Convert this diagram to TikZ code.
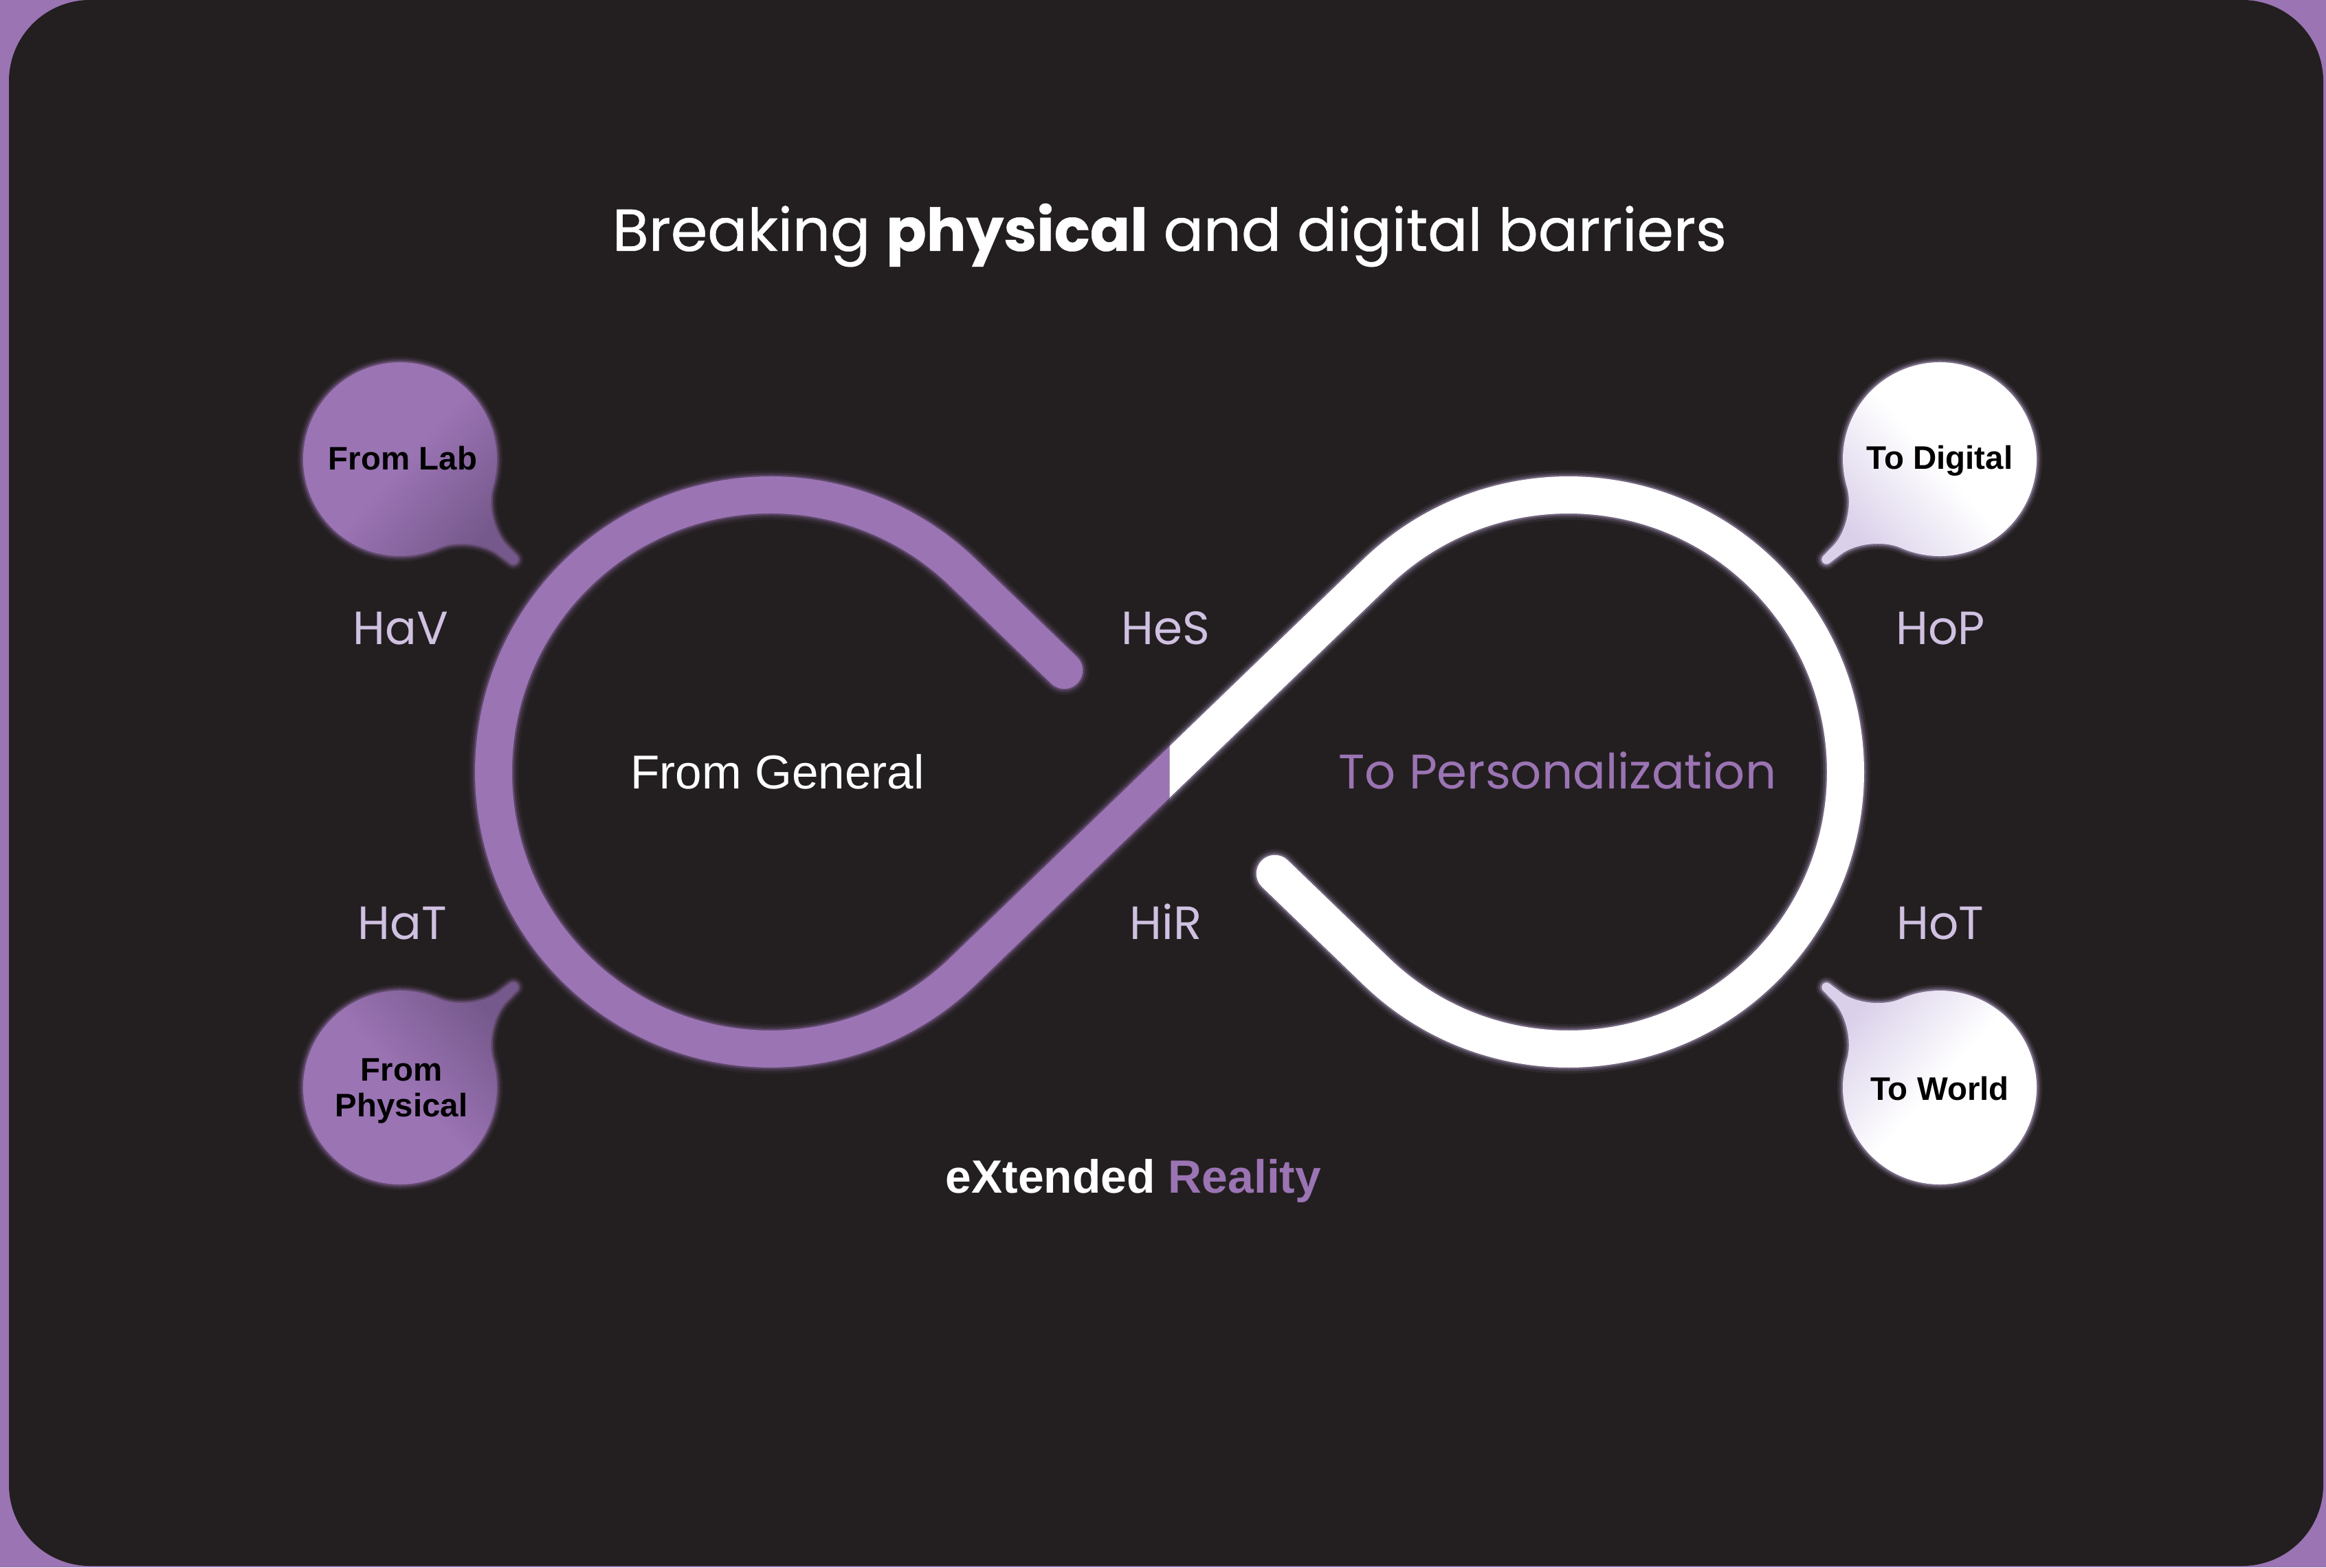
\documentclass[tikz,border=0pt]{standalone}
\usepackage{fontspec}
\setmainfont{Liberation Sans}
\newfontfamily\geofont{Poppins}
\usetikzlibrary{calc}

\definecolor{xrpurple}{RGB}{155,116,180}
\definecolor{xrdeep}{RGB}{118,89,140}
\definecolor{xrdark}{RGB}{35,31,32}
\definecolor{xrlilac}{RGB}{208,193,226}
\definecolor{xrmist}{RGB}{218,208,234}
\definecolor{xrglow}{RGB}{200,178,226}

\tikzset{
  loopline/.style={line width=0.54cm, line cap=round},
  hlabel/.style={text=xrlilac, anchor=base, font=\geofont\fontsize{19.3}{22}\selectfont},
  bubbletext/.style={text=black, align=center, font=\bfseries\fontsize{13.5}{14.8}\selectfont},
  bubble shape/.style={insert path={
    (25:1.41) arc[start angle=25, end angle=335, radius=1.41]
    .. controls +(65:0.3) and (1.75,-0.10) .. (2.0,-0.085) -- (2.20,-0.07)
    arc[start angle=-90, end angle=90, radius=0.07] -- (2.0,0.085)
    .. controls (1.75,0.10) and +(-65:0.3) .. (25:1.41) -- cycle}},
  purple loop/.style={insert path={
    (17.375,11.917) -- (14.008,8.670)
    arc[start angle=-46.03, end angle=-313.97, radius=4.03] -- ++(1.475,-1.423)}},
  white loop/.style={insert path={
    (16.655,11.223) -- (20.022,14.470)
    arc[start angle=133.97, end angle=-133.97, radius=4.03] -- ++(-1.475,1.423)}},
}

% speech bubble: centre, tail angle, body colour, tail-side colour, rim colour
\newcommand{\speechbubble}[5]{%
  \pgfmathsetmacro\shadeang{#2-90}
  \begin{scope}[shift={#1}, rotate=#2]
    \foreach \w/\op in {0.16/0.10, 0.10/0.18, 0.05/0.35}
      \draw[#5, line width=\w cm, opacity=\op, bubble shape];
    \shade[top color=#4, bottom color=#3, middle color=#3, shading angle=\shadeang, bubble shape];
  \end{scope}}

\begin{document}
\begin{tikzpicture}
\useasboundingbox (0,0) rectangle (33.84,22.80);

% card
\fill[xrpurple] (0,0) rectangle (33.84,22.80);
\fill[xrdark, rounded corners=1.18cm] (0.13,0.02) rectangle (33.80,22.80);

\node[text=white, anchor=base, font=\geofont\addfontfeature{FakeBold=0.6}\fontsize{24.5}{28}\selectfont] (title)
  at (17.015,19.15) {Breaking \textbf{physical} and digital barriers};

% infinity loop, centres of the two circles and the crossing
\coordinate (cl) at (11.21,11.57);
\coordinate (cr) at (22.82,11.57);
\coordinate (mid) at (17.015,11.57);

% left (purple) half
\begin{scope}
  \clip (0,0) rectangle (17.015,22.80);
  \foreach \w/\op in {0.72/0.08, 0.65/0.16, 0.59/0.32}
    \draw[xrpurple, line width=\w cm, line cap=round, opacity=\op, purple loop];
  \draw[loopline, xrpurple, purple loop];
\end{scope}

% right (white) half
\begin{scope}
  \clip (17.015,0) rectangle (33.84,22.80);
  \foreach \w/\op in {0.72/0.08, 0.65/0.16, 0.59/0.32}
    \draw[xrglow, line width=\w cm, line cap=round, opacity=\op, white loop];
  \draw[loopline, white, white loop];
\end{scope}

% H labels
\node[hlabel] (hav) at (5.83,13.42) {HaV};
\node[hlabel] (hes) at (16.96,13.42) {HeS};
\node[hlabel] (hop) at (28.23,13.42) {HoP};
\node[hlabel] (hat) at (5.85,9.13) {HaT};
\node[hlabel] (hir) at (16.96,9.13) {HiR};
\node[hlabel] (hot) at (28.23,9.13) {HoT};

\node[text=white, anchor=base, font=\fontsize{19.7}{23}\selectfont] (general)
  at (11.31,11.32) {From General};
\node[text=xrpurple, anchor=base, font=\geofont\fontsize{20.1}{24}\selectfont] (personal)
  at (22.66,11.32) {To Personalization};

\node[anchor=base, font=\bfseries\fontsize{19.3}{22}\selectfont] (xr)
  at (16.49,5.45) {\textcolor{white}{eXtended} \textcolor{xrpurple}{Reality}};

% bubbles
\speechbubble{(5.82,16.12)}{-41.5}{xrpurple}{xrdeep}{xrpurple}
\speechbubble{(5.82,6.98)}{41.5}{xrpurple}{xrdeep}{xrpurple}
\speechbubble{(28.22,16.12)}{221.5}{white}{xrmist}{xrglow}
\speechbubble{(28.22,6.98)}{138.5}{white}{xrmist}{xrglow}

\node[bubbletext, anchor=base] (lab) at (5.86,15.96) {From Lab};
\node[bubbletext] (physical) at (5.84,6.93) {From\\Physical};
\node[bubbletext, anchor=base] (digital) at (28.22,15.97) {To Digital};
\node[bubbletext, anchor=base] (world) at (28.22,6.80) {To World};
\end{tikzpicture}
\end{document}
